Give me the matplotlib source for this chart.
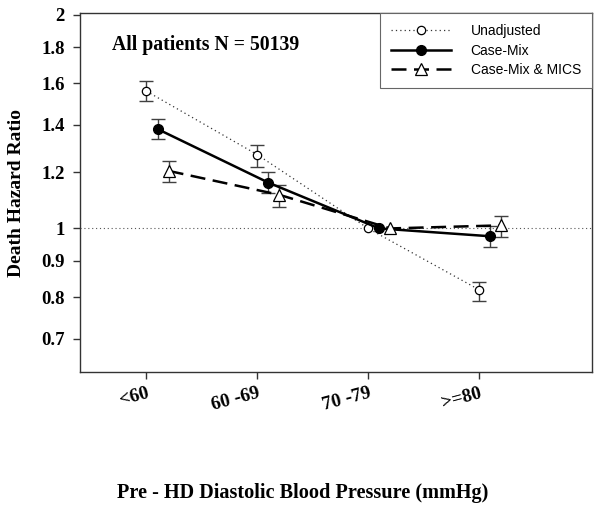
import matplotlib
matplotlib.use("Agg")
import matplotlib.pyplot as plt
from matplotlib.ticker import FixedLocator, NullLocator, FixedFormatter
import numpy as np

categories = ["<60", "60 -69", "70 -79", ">=80"]
series_names = ["Unadjusted", "Case-Mix", "Case-Mix & MICS"]

unadj = [1.56, 1.27, 1.00, 0.82]
unadj_lo = [1.51, 1.22, 1.00, 0.79]
unadj_hi = [1.61, 1.31, 1.00, 0.84]

casemix = [1.38, 1.16, 1.00, 0.975]
casemix_lo = [1.335, 1.12, 1.00, 0.942]
casemix_hi = [1.425, 1.20, 1.00, 1.008]

mics = [1.205, 1.115, 1.00, 1.01]
mics_lo = [1.163, 1.072, 1.00, 0.973]
mics_hi = [1.245, 1.15, 1.00, 1.041]

yticks = [0.7, 0.8, 0.9, 1.0, 1.2, 1.4, 1.6, 1.8, 2.0]
ytick_labels = ["0.7", "0.8", "0.9", "1", "1.2", "1.4", "1.6", "1.8", "2"]

serif = ["Liberation Serif", "DejaVu Serif"]
sans = ["Liberation Sans", "DejaVu Sans"]

fig = plt.figure(figsize=(6, 5.12), dpi=100)
ax = fig.add_axes([80/600, 1-372/512, 512/600, 359/512])

x = np.arange(1, len(categories)+1)
offsets = [0.0, 0.1, 0.2]
ecol = "#404040"

specs = [
    (unadj, unadj_lo, unadj_hi, dict(ls=(0, (1, 2.5)), lw=0.9, marker="o", mfc="white", mec="black", ms=6, mew=0.9, color="#333333")),
    (casemix, casemix_lo, casemix_hi, dict(ls="-", lw=1.8, marker="o", mfc="black", mec="black", ms=7, color="black")),
    (mics, mics_lo, mics_hi, dict(ls=(0, (6, 3)), lw=1.8, marker="^", mfc="white", mec="black", ms=8, mew=0.9, color="black")),
]

handles = []
for (vals, lo, hi, st), off, name in zip(specs, offsets, series_names):
    xs = x + off
    vals = np.array(vals); lo = np.array(lo); hi = np.array(hi)
    err = np.vstack([vals - lo, hi - vals])
    mask = np.array([c != "70 -79" for c in categories])
    ax.errorbar(xs[mask], vals[mask], yerr=err[:, mask], fmt="none", ecolor=ecol,
                elinewidth=1.0, capsize=5, capthick=1.0, zorder=2)
    h, = ax.plot(xs, vals, label=name, zorder=3, **st)
    handles.append(h)

ax.axhline(1.0, color="#555555", ls=(0, (1, 2.5)), lw=0.8, zorder=1)

ax.set_yscale("log")
ax.set_ylim(0.628, 2.01)
ax.set_xlim(0.4, 5.02)
ax.yaxis.set_major_locator(FixedLocator(yticks))
ax.yaxis.set_major_formatter(FixedFormatter(ytick_labels))
ax.yaxis.set_minor_locator(NullLocator())
ax.set_xticks(x)
ax.set_xticklabels(categories, rotation=15, ha="right", rotation_mode="anchor",
                   fontfamily=serif, fontweight="bold", fontsize=13.8)
for lab in ax.get_yticklabels():
    lab.set_fontfamily(serif)
    lab.set_fontweight("bold")
    lab.set_fontsize(13.5)

ax.tick_params(axis="both", direction="out", length=5, width=1, color="#333333")
ax.tick_params(axis="x", pad=4)
ax.tick_params(axis="y", pad=6)
for s in ax.spines.values():
    s.set_color("#333333")
    s.set_linewidth(1.0)

ax.text(0.062, 0.91, "All patients N = 50139", transform=ax.transAxes,
        fontfamily=serif, fontweight="bold", fontsize=14.2, ha="left", va="center")

fig.text(17/600, 1-193/512, "Death Hazard Ratio", rotation=90, ha="center", va="center",
         fontfamily=serif, fontweight="bold", fontsize=14)
fig.text(303/600, 1-493/512, "Pre - HD Diastolic Blood Pressure (mmHg)", ha="center", va="center",
         fontfamily=serif, fontweight="bold", fontsize=14.6)

leg = ax.legend(handles=handles, loc="upper right", borderaxespad=0, fancybox=False,
                framealpha=1, edgecolor="#666666", prop={"family": sans, "size": 10},
                handlelength=4.3, borderpad=0.8, labelspacing=0.4, handletextpad=1.4)
leg.get_frame().set_linewidth(0.8)
leg.set_zorder(5)

fig.savefig("out.png", dpi=100)
